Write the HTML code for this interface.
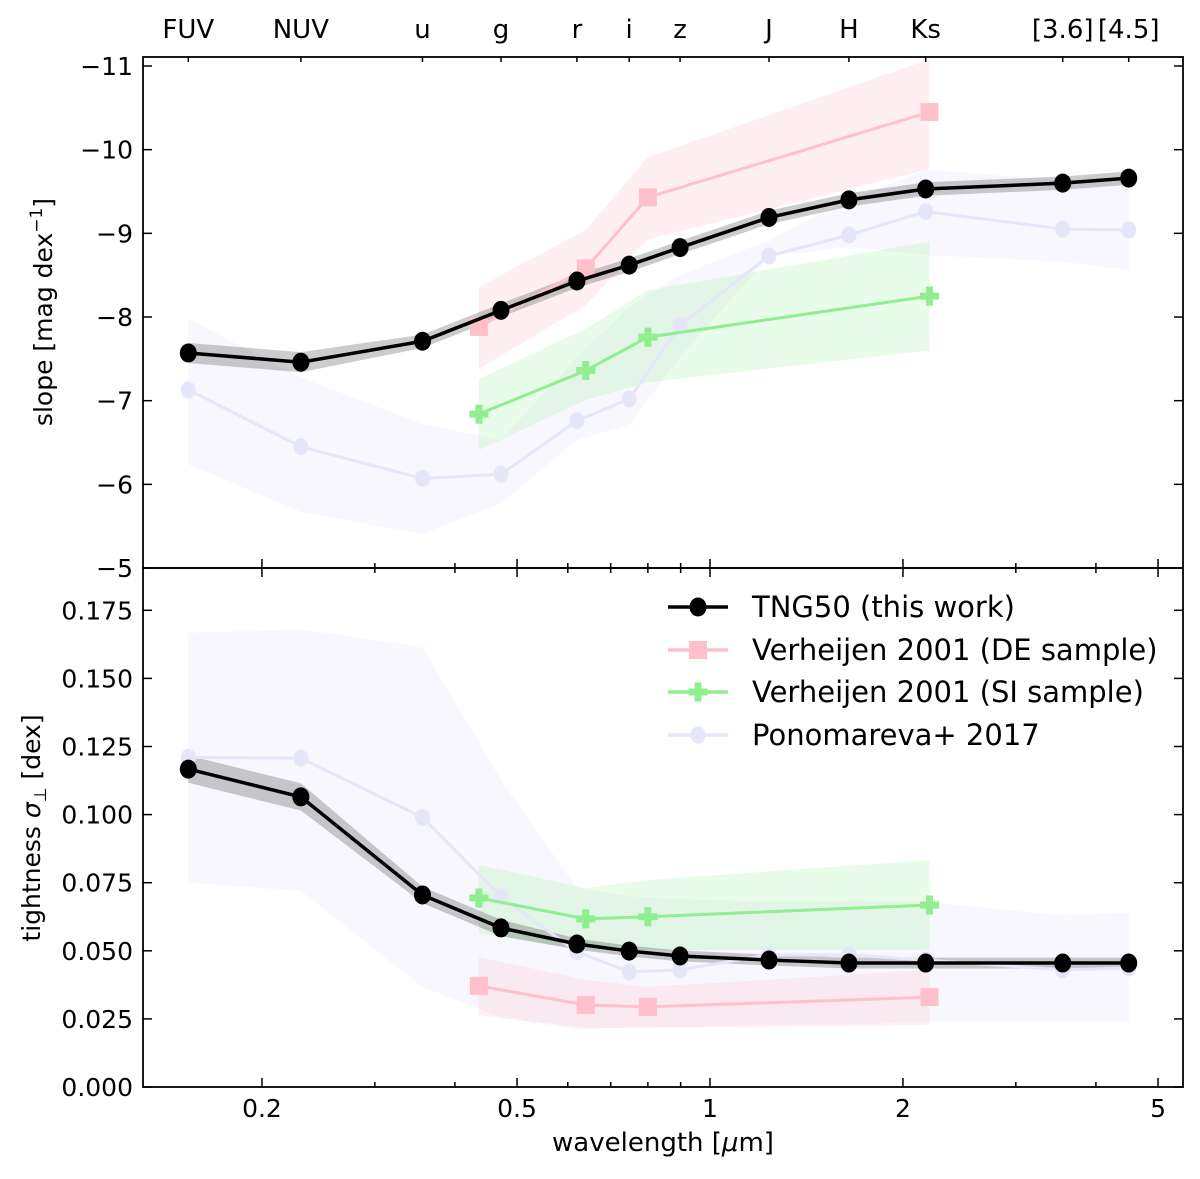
<!DOCTYPE html>
<html><head><meta charset="utf-8"><style>
body{margin:0;background:#fff;}
svg text{font-family:"DejaVu Sans","Liberation Sans",sans-serif;fill:#000;}
</style></head><body>
<svg id="chart" width="1200" height="1174" viewBox="0 0 1200 1174" xmlns="http://www.w3.org/2000/svg"></svg>
<script>
// ---- data ----
const bandNames = ["FUV","NUV","u","g","r","i","z","J","H","Ks","[3.6]","[4.5]"];
const bandWl = [0.1535,0.230,0.356,0.472,0.62,0.748,0.898,1.236,1.647,2.17,3.55,4.50];
const tngSlope = [-7.57,-7.46,-7.71,-8.08,-8.43,-8.62,-8.83,-9.19,-9.40,-9.53,-9.60,-9.66];
const tngSlopeErr = [0.12,0.12,0.08,0.08,0.08,0.08,0.08,0.08,0.08,0.08,0.08,0.08];
const tngTight = [0.1167,0.1065,0.0705,0.0584,0.0525,0.0499,0.0481,0.0466,0.0455,0.0455,0.0455,0.0455];
const tngTightErr = [0.005,0.005,0.003,0.003,0.002,0.002,0.002,0.002,0.002,0.002,0.002,0.002];
const verWl = [0.436,0.64,0.80,2.2];
const deSlope = [-7.88,-8.58,-9.43,-10.45];
const deSlopeLo = [-7.38,-8.14,-8.93,-9.77];
const deSlopeHi = [-8.36,-9.04,-9.91,-11.08];
const siSlope = [-6.84,-7.36,-7.76,-8.25];
const siSlopeLo = [-6.41,-7.01,-7.22,-7.60];
const siSlopeHi = [-7.26,-7.86,-8.32,-8.90];
const deTight = [0.0371,0.0301,0.0294,0.0330];
const deTightLo = [0.0264,0.0217,0.0217,0.0228];
const deTightHi = [0.0477,0.0393,0.0367,0.0430];
const siTight = [0.0694,0.0617,0.0625,0.0668];
const siTightLo = [0.0565,0.0503,0.0503,0.0503];
const siTightHi = [0.0815,0.0730,0.0760,0.0833];
const ponoSlope = [-7.13,-6.45,-6.07,-6.12,-6.76,-7.02,-7.90,-8.73,-8.98,-9.26,-9.05,-9.04];
const ponoSlopeLo = [-6.24,-5.67,-5.41,-5.77,-6.53,-6.71,-7.52,-8.72,-8.84,-8.74,-8.66,-8.56];
const ponoSlopeHi = [-7.98,-7.28,-6.72,-6.53,-7.52,-8.12,-8.50,-8.92,-9.40,-9.76,-9.64,-9.67];
const ponoTight = [0.121,0.1207,0.099,0.0698,0.0496,0.0422,0.043,0.0485,0.0485,0.0466,0.043,0.0437];
const ponoTightLo = [0.075,0.072,0.0367,0.0257,0.021,0.022,0.022,0.023,0.023,0.024,0.024,0.024];
const ponoTightHi = [0.1667,0.168,0.1615,0.1127,0.073,0.070,0.069,0.068,0.068,0.068,0.063,0.064];
const xTicks = [0.2,0.5,1,2,5];
const xTickLabels = ["0.2","0.5","1","2","5"];
const slopeTicks = [-11,-10,-9,-8,-7,-6,-5];
const tightTicks = [0,0.025,0.05,0.075,0.1,0.125,0.15,0.175];

// ---- layout ----
const L=143,R=1183,T1=57,B1=568,T2=568,B2=1087;
const X=w=>710+Math.log10(w)*641;
const Y1=v=>66+(v+11)*83.67;
const Y2=v=>1087-v/0.025*68.1;
const svg=document.getElementById('chart');
const NS='http://www.w3.org/2000/svg';
function mk(tag,attrs,name,parent){const e=document.createElementNS(NS,tag);for(const k in attrs)e.setAttribute(k,attrs[k]);


(parent||svg).appendChild(e);return e;}
function txt(s,x,y,anchor,size,name,extra){const t=mk('text',Object.assign({x:x,y:y,'text-anchor':anchor,'font-size':size},extra||{}),name);t.textContent=s;return t;}
function band(xs,lo,hi,Y,color,op,name){let p=xs.map((w,i)=>X(w)+','+Y(hi[i]));p=p.concat(xs.map((w,i)=>X(w)+','+Y(lo[i])).reverse());mk('polygon',{points:p.join(' '),fill:color,'fill-opacity':op},name);}
function line(xs,ys,Y,color,wd,name){mk('polyline',{points:xs.map((w,i)=>X(w)+','+Y(ys[i])).join(' '),fill:'none',stroke:color,'stroke-width':wd},name);}
function marker(x,y,type,color,name){
 if(type==='c')mk('ellipse',{cx:x,cy:y,rx:8.5,ry:9.5,fill:color},name);
 else if(type==='h')mk('ellipse',{cx:x,cy:y,rx:7.5,ry:8.5,fill:color},name);
 else if(type==='s')mk('rect',{x:x-9,y:y-9,width:18,height:18,fill:color},name);
 else mk('path',{d:`M${x-3.5},${y-9.5}h7v6h6v7h-6v6h-7v-6h-6v-7h6z`,fill:color},name);}
function marks(xs,ys,Y,type,color,name){xs.forEach((w,i)=>marker(X(w),Y(ys[i]),type,color,name));}

const pink='#ffc0cb',green='#90ee90',lav='#e6e6fa';
// top panel
band(bandWl,ponoSlopeLo,ponoSlopeHi,Y1,lav,0.3,'pono-slope-band');
band(verWl,deSlopeLo,deSlopeHi,Y1,pink,0.25,'de-slope-band');
band(verWl,siSlopeLo,siSlopeHi,Y1,green,0.2,'si-slope-band');
band(bandWl,tngSlope.map((v,i)=>v+tngSlopeErr[i]),tngSlope.map((v,i)=>v-tngSlopeErr[i]),Y1,'#000',0.2,'tng-slope-band');
line(bandWl,ponoSlope,Y1,lav,3,'pono-slope-line');marks(bandWl,ponoSlope,Y1,'h',lav,'pono-slope-point');
line(verWl,deSlope,Y1,pink,3,'de-slope-line');marks(verWl,deSlope,Y1,'s',pink,'de-slope-point');
line(verWl,siSlope,Y1,green,3,'si-slope-line');marks(verWl,siSlope,Y1,'p',green,'si-slope-point');
line(bandWl,tngSlope,Y1,'#000',3.5,'tng-slope-line');marks(bandWl,tngSlope,Y1,'c','#000','tng-slope-point');
// bottom panel
band(bandWl,ponoTightLo,ponoTightHi,Y2,lav,0.3,'pono-tight-band');
band(verWl,deTightLo,deTightHi,Y2,pink,0.25,'de-tight-band');
band(verWl,siTightLo,siTightHi,Y2,green,0.2,'si-tight-band');
band(bandWl,tngTight.map((v,i)=>v-tngTightErr[i]),tngTight.map((v,i)=>v+tngTightErr[i]),Y2,'#000',0.2,'tng-tight-band');
line(bandWl,ponoTight,Y2,lav,3,'pono-tight-line');marks(bandWl,ponoTight,Y2,'h',lav,'pono-tight-point');
line(verWl,deTight,Y2,pink,3,'de-tight-line');marks(verWl,deTight,Y2,'s',pink,'de-tight-point');
line(verWl,siTight,Y2,green,3,'si-tight-line');marks(verWl,siTight,Y2,'p',green,'si-tight-point');
line(bandWl,tngTight,Y2,'#000',3.5,'tng-tight-line');marks(bandWl,tngTight,Y2,'c','#000','tng-tight-point');

// frames
mk('rect',{x:L,y:T1,width:R-L,height:B1-T1,fill:'none',stroke:'#000','stroke-width':1.8},'top-panel-frame');
mk('rect',{x:L,y:T2,width:R-L,height:B2-T2,fill:'none',stroke:'#000','stroke-width':1.8},'bottom-panel-frame');
// x ticks
const minor=[0.2,0.3,0.4,0.5,0.6,0.7,0.8,0.9,1,2,3,4,5];
minor.forEach(w=>{const x=X(w);const maj=xTicks.includes(w);const len=maj?9:5;
 mk('line',{x1:x,y1:B2,x2:x,y2:B2-len,stroke:'#000','stroke-width':1.5},'x-tick');
 mk('line',{x1:x,y1:B1,x2:x,y2:B1-len,stroke:'#000','stroke-width':1.5},'x-tick');
 mk('line',{x1:x,y1:T2,x2:x,y2:T2+len,stroke:'#000','stroke-width':1.5},'x-tick');});
xTicks.forEach((w,i)=>txt(xTickLabels[i],X(w),1117,'middle',25,'x-tick-label'));
bandWl.forEach((w,i)=>{const x=X(w);mk('line',{x1:x,y1:T1,x2:x,y2:T1+5,stroke:'#000','stroke-width':1.5},'band-tick');});
bandNames.forEach((n,i)=>txt(n,X(bandWl[i]),38,'middle',26,'band-label'));
// y ticks
slopeTicks.forEach(v=>{const y=Y1(v);mk('line',{x1:L,y1:y,x2:L+9,y2:y,stroke:'#000','stroke-width':1.5},'y-tick');mk('line',{x1:R,y1:y,x2:R-9,y2:y,stroke:'#000','stroke-width':1.5},'y-tick');
 txt((v<0?'\u2212':'')+Math.abs(v),133,y+9,'end',25,'slope-tick-label');});
tightTicks.forEach(v=>{const y=Y2(v);mk('line',{x1:L,y1:y,x2:L+9,y2:y,stroke:'#000','stroke-width':1.5},'y-tick');mk('line',{x1:R,y1:y,x2:R-9,y2:y,stroke:'#000','stroke-width':1.5},'y-tick');
 txt(v.toFixed(3),133,y+9,'end',25,'tightness-tick-label');});
// axis titles
const t1=txt('',52,312,'middle',25,'slope-axis-title',{transform:'rotate(-90 52 312)'});
t1.innerHTML='slope [mag dex<tspan dy="-10" font-size="17">\u22121</tspan><tspan dy="10">]</tspan>';
const t2=txt('',40,828,'middle',25,'tightness-axis-title',{transform:'rotate(-90 40 828)'});
t2.innerHTML='tightness <tspan font-style="italic">\u03c3</tspan><tspan dy="6" font-size="17">\u22a5</tspan><tspan dy="-6"> [dex]</tspan>';
const t3=txt('',663,1151,'middle',26,'x-axis-title');t3.innerHTML='wavelength [<tspan font-style="italic">\u03bc</tspan>m]';
// legend
const legNames=['TNG50 (this work)','Verheijen 2001 (DE sample)','Verheijen 2001 (SI sample)','Ponomareva+ 2017'];
const legCols=['#000',pink,green,lav];const legM=['c','s','p','h'];const legY=[607,650,692,735];
legNames.forEach((n,i)=>{const y=legY[i];mk('line',{x1:668,y1:y,x2:728,y2:y,stroke:legCols[i],'stroke-width':3.5},'legend-line');
 marker(698,y,legM[i],legCols[i],'legend-marker');
 txt(n,752,y+10,'start',29,'legend-entry');});
</script>
</body></html>
